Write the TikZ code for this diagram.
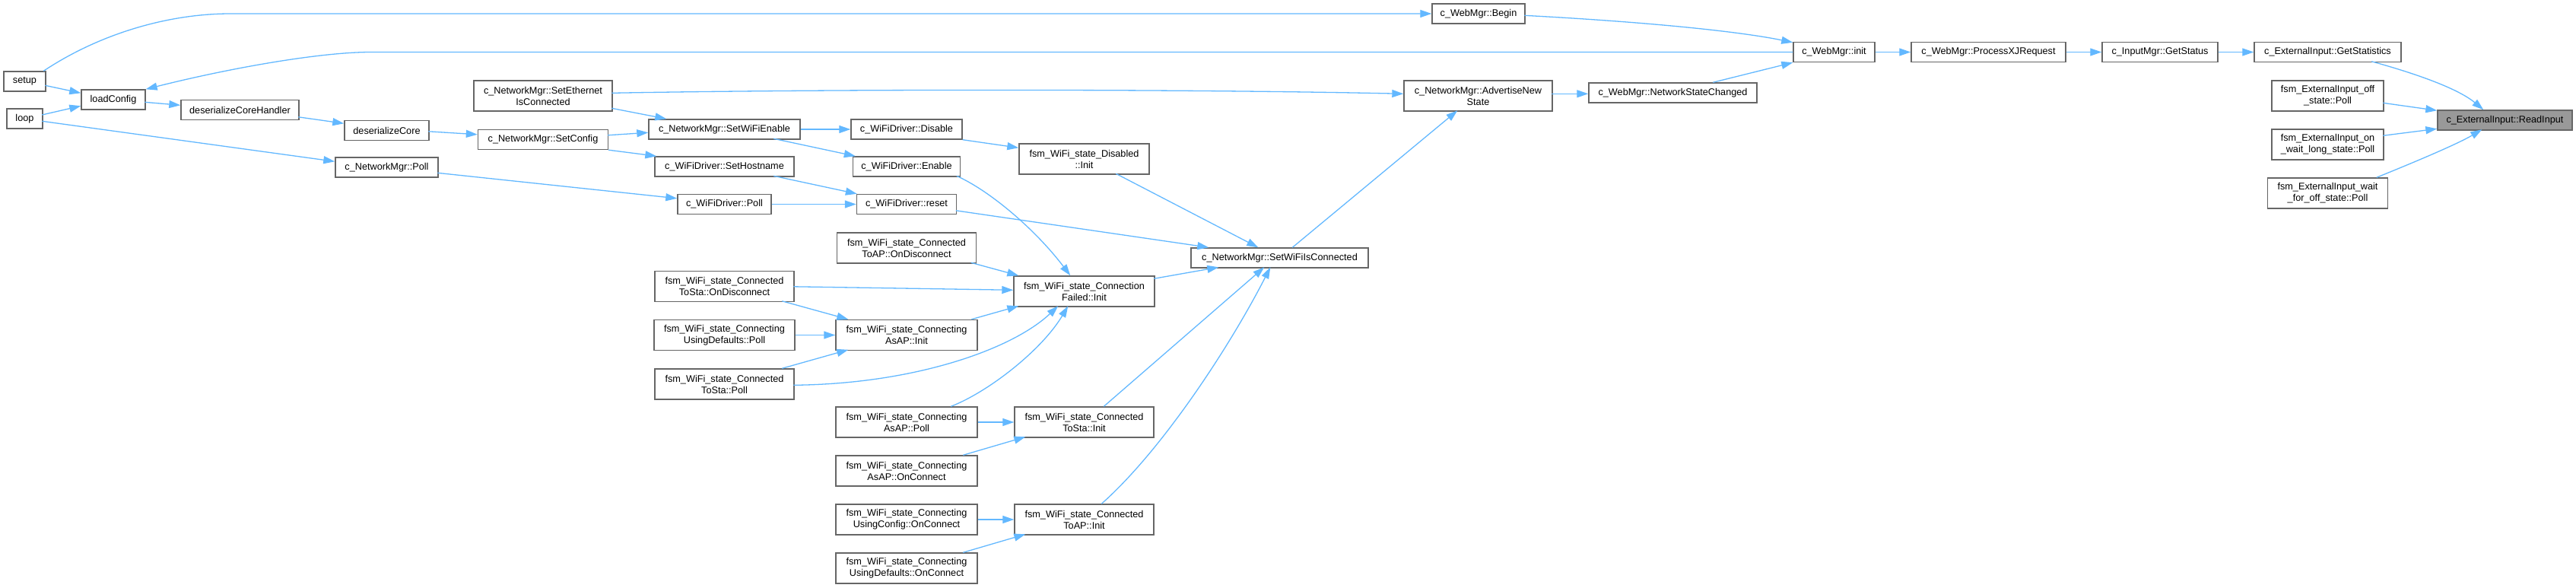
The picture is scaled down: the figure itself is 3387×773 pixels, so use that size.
\documentclass[tikz,border=0pt]{standalone}
\usepackage{fontspec}
\setmainfont{Liberation Sans}
\usetikzlibrary{arrows.meta,calc}
\definecolor{edgeblue}{HTML}{63B8FF}
\definecolor{nodegray}{HTML}{666666}
\definecolor{rootfill}{HTML}{999999}
\newcommand\gnode[7][]{\node[nbox,#1,minimum width=#5pt,minimum height=#6pt] (#2) at (#3,#4) {#7};}
\tikzset{
  nbox/.style={draw=nodegray, line width=1.4pt, fill=white, inner sep=0pt, align=center, text=black},
  rootbox/.style={fill=rootfill},
  e/.style={draw=edgeblue, line width=1.3pt, -{Triangle[length=15pt,width=10pt]}}
}
\begin{document}
\begin{tikzpicture}[x=1pt,y=-1pt,font=\fontsize{12.7}{15}\selectfont]
\useasboundingbox (0,0) rectangle (3387,773);
% nodes
\gnode{setup}{32.5}{107}{55}{26}{setup}
\gnode{loop}{32.5}{156}{47}{26}{loop}
\gnode{loadConfig}{149}{131}{84}{26}{loadConfig}
\gnode{dch}{315.5}{144.5}{155}{26}{deserializeCoreHandler}
\gnode{dc}{508.5}{171.5}{111}{26}{deserializeCore}
\gnode{npoll}{508.5}{220}{135}{26}{c\_NetworkMgr::Poll}
\gnode{seth}{714}{126}{182}{40}{c\_NetworkMgr::SetEthernet\\IsConnected}
\gnode{scfg}{714}{183.5}{171}{26}{c\_NetworkMgr::SetConfig}
\gnode{swe}{952.5}{170}{199}{26}{c\_NetworkMgr::SetWiFiEnable}
\gnode{shn}{952.5}{219}{183}{26}{c\_WiFiDriver::SetHostname}
\gnode{wpoll}{952.5}{268.5}{123}{26}{c\_WiFiDriver::Poll}
\gnode{stadisc}{952.5}{376.5}{183}{40}{fsm\_WiFi\_state\_Connected\\ToSta::OnDisconnect}
\gnode{udpoll}{952.5}{440.5}{185}{40}{fsm\_WiFi\_state\_Connecting\\UsingDefaults::Poll}
\gnode{stapoll}{952.5}{505}{183}{40}{fsm\_WiFi\_state\_Connected\\ToSta::Poll}
\gnode{dis}{1192}{170}{146}{26}{c\_WiFiDriver::Disable}
\gnode{ena}{1192}{219}{141}{26}{c\_WiFiDriver::Enable}
\gnode{rst}{1192}{268.5}{131}{26}{c\_WiFiDriver::reset}
\gnode{apdisc}{1192}{326}{183}{40}{fsm\_WiFi\_state\_Connected\\ToAP::OnDisconnect}
\gnode{asapinit}{1192}{440.5}{186}{40}{fsm\_WiFi\_state\_Connecting\\AsAP::Init}
\gnode{asappoll}{1192}{555}{186}{40}{fsm\_WiFi\_state\_Connecting\\AsAP::Poll}
\gnode{asapconn}{1192}{619}{186}{40}{fsm\_WiFi\_state\_Connecting\\AsAP::OnConnect}
\gnode{ucconn}{1192}{683}{186}{40}{fsm\_WiFi\_state\_Connecting\\UsingConfig::OnConnect}
\gnode{udconn}{1192}{747}{186}{40}{fsm\_WiFi\_state\_Connecting\\UsingDefaults::OnConnect}
\gnode{disinit}{1425.5}{209}{171}{40}{fsm\_WiFi\_state\_Disabled\\::Init}
\gnode{cfinit}{1425.5}{383}{185}{40}{fsm\_WiFi\_state\_Connection\\Failed::Init}
\gnode{stainit}{1425.5}{555}{183}{40}{fsm\_WiFi\_state\_Connected\\ToSta::Init}
\gnode{apinit}{1425.5}{683}{183}{40}{fsm\_WiFi\_state\_Connected\\ToAP::Init}
\gnode{swic}{1682.5}{339}{233}{26}{c\_NetworkMgr::SetWiFiIsConnected}
\gnode{wbegin}{1944}{18}{122}{26}{c\_WebMgr::Begin}
\gnode{adv}{1943.5}{126}{195}{40}{c\_NetworkMgr::AdvertiseNew\\State}
\gnode{nsc}{2199.5}{122}{221}{26}{c\_WebMgr::NetworkStateChanged}
\gnode{winit}{2411.5}{68.5}{107}{26}{c\_WebMgr::init}
\gnode{pxj}{2614.5}{68.5}{203}{26}{c\_WebMgr::ProcessXJRequest}
\gnode{gst}{2840}{68.5}{152}{26}{c\_InputMgr::GetStatus}
\gnode{gstat}{3060.5}{68.5}{193}{26}{c\_ExternalInput::GetStatistics}
\gnode{offp}{3060.5}{126}{147}{40}{fsm\_ExternalInput\_off\\\_state::Poll}
\gnode{onwp}{3060.5}{190}{147}{40}{fsm\_ExternalInput\_on\\\_wait\_long\_state::Poll}
\gnode{wfop}{3060.5}{254}{158}{40}{fsm\_ExternalInput\_wait\\\_for\_off\_state::Poll}
\gnode[rootbox]{ri}{3293.5}{158}{177}{26}{c\_ExternalInput::ReadInput}
% edges
\draw[e] ($(setup.north west)+(53,0)$) .. controls (130,45) and (220,18) .. (303,18) -- (wbegin.west);
\draw[e] ($(setup.north west)+(55,19)$) -- ($(loadConfig.north west)+(0,5)$);
\draw[e] ($(loop.north west)+(47,8.7)$) -- ($(loadConfig.north west)+(0,22)$);
\draw[e] ($(loop.north west)+(47,17)$) -- ($(npoll.north west)+(0,6)$);
\draw[e] (winit.west) -- (488,68.5) .. controls (420,68.5) and (300,90) .. (loadConfig.north east);
\draw[e] ($(loadConfig.north west)+(84,17)$) -- ($(dch.north west)+(0,7.5)$);
\draw[e] ($(dch.north west)+(155,23)$) -- ($(dc.north west)+(0,4.5)$);
\draw[e] ($(dc.north west)+(111,15)$) -- ($(scfg.north west)+(0,7)$);
\draw[e] ($(seth.north west)+(182,17)$) .. controls (1100,117) and (1550,117) .. ($(adv.north west)+(0,18)$);
\draw[e] ($(seth.north west)+(182,37)$) -- ($(swe.north west)+(24,0)$);
\draw[e] ($(scfg.north west)+(171,8)$) -- ($(swe.north west)+(0,18)$);
\draw[e] (scfg.south east) -- ($(shn.north west)+(3,0)$);
\draw[e] ($(npoll.north west)+(135,21)$) -- ($(wpoll.north west)+(0,6)$);
\draw[e] (swe) -- (dis);
\draw[e] ($(swe.north west)+(165,26)$) -- ($(ena.north west)+(4,0)$);
\draw[e] ($(shn.north west)+(157,26)$) -- ($(rst.north west)+(1,0)$);
\draw[e] (wpoll) -- (rst);
\draw[e] (dis.south east) -- ($(disinit.north west)+(0,6)$);
\draw[e] ($(ena.north west)+(137,26)$) .. controls (1300,250) and (1360,300) .. ($(cfinit.north west)+(75,0)$);
\draw[e] ($(rst.north west)+(131,22)$) -- ($(swic.north west)+(24,0)$);
\draw[e] ($(disinit.north west)+(128,40)$) -- ($(swic.north west)+(89,0)$);
\draw[e] ($(apdisc.north west)+(177,40)$) -- ($(cfinit.north west)+(7,0)$);
\draw[e] ($(stadisc.north west)+(183,21)$) -- ($(cfinit.north west)+(0,19)$);
\draw[e] ($(cfinit.north west)+(185,4)$) -- ($(swic.north west)+(37,26)$);
\draw[e] ($(asapinit.north west)+(179,0)$) -- ($(cfinit.north west)+(7,40)$);
\draw[e] ($(stadisc.north west)+(168,40)$) -- ($(asapinit.north west)+(17,0)$);
\draw[e] (udpoll) -- (asapinit);
\draw[e] ($(stapoll.north west)+(168,0)$) -- ($(asapinit.north west)+(17,40)$);
\draw[e] ($(stapoll.north west)+(183,22)$) .. controls (1200,505) and (1330,460) .. ($(cfinit.north west)+(59,40)$);
\draw[e] ($(asappoll.north west)+(152,0)$) .. controls (1300,515) and (1370,460) .. ($(cfinit.north west)+(72,40)$);
\draw[e] (asappoll) -- (stainit);
\draw[e] ($(asapconn.north west)+(168,0)$) -- ($(stainit.north west)+(15,40)$);
\draw[e] ($(stainit.north west)+(118,0)$) -- ($(swic.north west)+(97,26)$);
\draw[e] (ucconn) -- (apinit);
\draw[e] ($(udconn.north west)+(168,0)$) -- ($(apinit.north west)+(15,40)$);
\draw[e] ($(apinit.north west)+(115,0)$) .. controls (1530,590) and (1620,450) .. ($(swic.north west)+(105,26)$);
\draw[e] ($(swic.north west)+(134,0)$) -- ($(adv.north west)+(71,40)$);
\draw[e] ($(adv.north west)+(195,18)$) -- ($(nsc.north west)+(0,15)$);
\draw[e] ($(nsc.north west)+(164,0)$) -- (winit.south west);
\draw[e] ($(wbegin.north west)+(122,16)$) .. controls (2150,28) and (2280,40) .. ($(winit.north west)+(0,1)$);
\draw[e] (winit) -- (pxj);
\draw[e] (pxj) -- (gst);
\draw[e] (gst) -- (gstat);
\draw[e] ($(gstat.north west)+(155,26)$) .. controls (3170,95) and (3230,115) .. ($(ri.north west)+(61,0)$);
\draw[e] ($(offp.north west)+(147,30)$) -- ($(ri.north west)+(0,1)$);
\draw[e] ($(onwp.north west)+(147,9)$) -- ($(ri.north west)+(0,25)$);
\draw[e] ($(wfop.north west)+(144,0)$) .. controls (3170,215) and (3230,190) .. ($(ri.north west)+(59,26)$);
\end{tikzpicture}
\end{document}
